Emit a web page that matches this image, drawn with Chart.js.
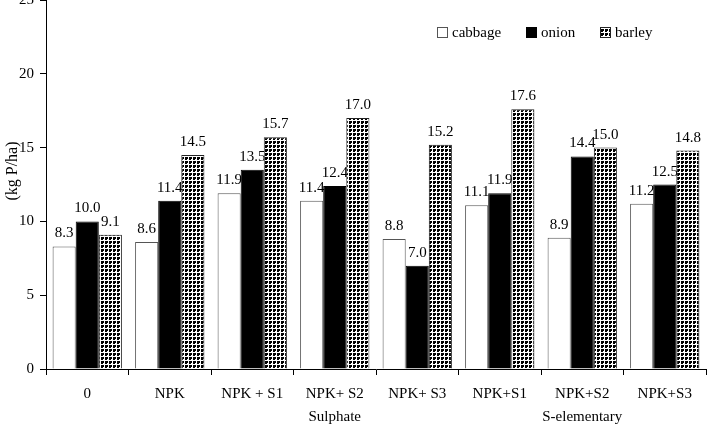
<!DOCTYPE html>
<html><head><meta charset="utf-8">
<script src="https://cdn.jsdelivr.net/npm/chart.js@4"></script>
<style>html,body{margin:0;padding:0;background:#fff}#wrap{width:707px;height:432px;position:relative;overflow:hidden}</style>
</head><body><div id="wrap"><canvas id="c" width="707" height="432"></canvas></div>
<script>
const categories = ["0", "NPK", "NPK + S1", "NPK+ S2", "NPK+ S3", "NPK+S1", "NPK+S2", "NPK+S3"];
const groupLabels = ["", "", "", "Sulphate", "", "", "S-elementary", ""];
const seriesNames = ["cabbage", "onion", "barley"];
const cabbage = [8.3, 8.6, 11.9, 11.4, 8.8, 11.1, 8.9, 11.2];
const onion = [10.0, 11.4, 13.5, 12.4, 7.0, 11.9, 14.4, 12.5];
const barley = [9.1, 14.5, 15.7, 17.0, 15.2, 17.6, 15.0, 14.8];
const yTicks = [0, 5, 10, 15, 20, 25];
const yTitle = "(kg P/ha)";

const FONT = '"Liberation Serif", "Times New Roman", serif';
Chart.defaults.font.family = FONT;
Chart.defaults.font.size = 15;
Chart.defaults.color = '#000';

// checkered pattern for barley
function makePattern() {
  const t = document.createElement('canvas');
  t.width = 4; t.height = 4;
  const g = t.getContext('2d');
  g.fillStyle = '#fff'; g.fillRect(0, 0, 4, 4);
  g.fillStyle = '#000'; g.fillRect(1, 1, 3, 3);
  g.fillStyle = '#fff'; g.fillRect(3, 3, 1, 1);
  return document.getElementById('c').getContext('2d').createPattern(t, 'repeat');
}
const pattern = makePattern();

const labels = categories.map((c, i) => groupLabels[i] ? [c, groupLabels[i]] : c);

const orderedDraw = {
  id: 'orderedDraw',
  beforeDatasetsDraw(chart) {
    const ctx = chart.ctx;
    for (let i = 0; i < chart.data.datasets.length; i++) {
      const meta = chart.getDatasetMeta(i);
      meta.controller.draw();
      ctx.save();
      ctx.font = '15px ' + FONT;
      ctx.fillStyle = '#000';
      ctx.textAlign = 'center';
      ctx.textBaseline = 'alphabetic';
      meta.data.forEach((bar, j) => {
        const v = chart.data.datasets[i].data[j];
        ctx.fillText(v.toFixed(1), bar.x, bar.y - 9);
      });
      ctx.restore();
    }
    return false;
  },
  afterDraw(chart) {
    const ctx = chart.ctx;
    ctx.save();
    ctx.translate(13, 171);
    ctx.rotate(-Math.PI / 2);
    ctx.font = '16px ' + FONT;
    ctx.fillStyle = '#000';
    ctx.textAlign = 'center';
    ctx.textBaseline = 'middle';
    ctx.fillText(yTitle, 0, 0);
    ctx.restore();
    const xs = [437, 526, 600];
    ctx.save();
    ctx.font = '15px ' + FONT;
    ctx.textBaseline = 'middle';
    ctx.textAlign = 'left';
    chart.data.datasets.forEach((ds, i) => {
      const x = xs[i], y = 27;
      ctx.fillStyle = ds.backgroundColor;
      ctx.fillRect(x, y, 11, 11);
      ctx.strokeStyle = ds.borderColor;
      ctx.lineWidth = 1;
      ctx.strokeRect(x + 0.5, y + 0.5, 10, 10);
      ctx.fillStyle = '#000';
      ctx.fillText(ds.label, x + 15, y + 6);
    });
    ctx.restore();
  }
};

new Chart(document.getElementById('c'), {
  type: 'bar',
  data: {
    labels: labels,
    datasets: [
      { label: seriesNames[0], data: cabbage, backgroundColor: '#fff', borderColor: '#555', borderWidth: 1 },
      { label: seriesNames[1], data: onion, backgroundColor: '#000', borderColor: '#000', borderWidth: 1 },
      { label: seriesNames[2], data: barley, backgroundColor: pattern, borderColor: '#222', borderWidth: 1 }
    ]
  },
  options: {
    responsive: false,
    devicePixelRatio: 1,
    animation: false,
    layout: { padding: { top: 0, left: 0, right: 1, bottom: 0 } },
    datasets: { bar: { categoryPercentage: 0.84, barPercentage: 1 } },
    plugins: { legend: { display: false }, tooltip: { enabled: false } },
    scales: {
      x: {
        grid: { display: true, drawOnChartArea: false, drawTicks: true, tickLength: 6, color: '#000', offset: true },
        border: { color: '#000', width: 1 },
        ticks: { padding: 7, maxRotation: 0, autoSkip: false, font: { size: 15, lineHeight: 1.55 }, color: '#000' },
        afterFit(s) { s.height = 63; s.paddingLeft = 0; s.paddingRight = 0; }
      },
      y: {
        min: 0, max: 25,
        afterBuildTicks(s) { s.ticks = yTicks.map(v => ({ value: v })); },
        grid: { display: true, drawOnChartArea: false, drawTicks: true, tickLength: 6, color: '#000' },
        border: { color: '#000', width: 1 },
        ticks: { padding: 6, font: { size: 15 }, color: '#000' },
        afterFit(s) { s.width = 46; s.paddingTop = 0; s.paddingBottom = 0; }
      }
    }
  },
  plugins: [orderedDraw]
});
</script></body></html>
